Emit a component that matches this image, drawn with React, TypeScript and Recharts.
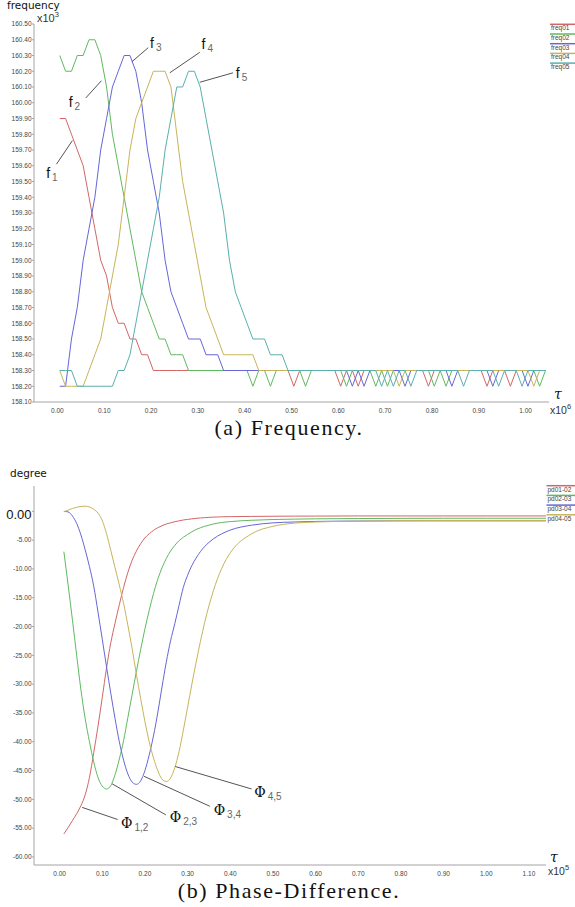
import React from "react";
import { LineChart, Line, XAxis, YAxis, ReferenceLine, ReferenceDot } from "recharts";

// ---- (a) frequency, tau in units of 10^6 ----
const TAU_A = [
  0.005, 0.0175, 0.03, 0.0425, 0.055, 0.0675, 0.08, 0.0925, 0.105, 0.1175, 0.13, 0.1425,
  0.155, 0.1675, 0.18, 0.1925, 0.205, 0.2175, 0.23, 0.2425, 0.255, 0.2675, 0.28, 0.2925,
  0.305, 0.3175, 0.33, 0.3425, 0.355, 0.3675, 0.38, 0.3925, 0.405, 0.4175, 0.43, 0.4425,
  0.455, 0.4675, 0.48, 0.4925, 0.505, 0.5175, 0.53, 0.5425, 0.555, 0.5675, 0.58, 0.5925,
  0.605, 0.6175, 0.63, 0.6425, 0.655, 0.6675, 0.68, 0.6925, 0.705, 0.7175, 0.73, 0.7425,
  0.755, 0.7675, 0.78, 0.7925, 0.805, 0.8175, 0.83, 0.8425, 0.855, 0.8675, 0.88, 0.8925,
  0.905, 0.9175, 0.93, 0.9425, 0.955, 0.9675, 0.98, 0.9925, 1.005, 1.0175, 1.03, 1.0425,
];

const FREQ01 = [
  159.9, 159.9, 159.8, 159.7, 159.6, 159.4, 159.2, 159.0, 158.9, 158.7, 158.6, 158.6,
  158.5, 158.5, 158.4, 158.4, 158.3, 158.3, 158.3, 158.3, 158.3, 158.3, 158.3, 158.3,
  158.3, 158.3, 158.3, 158.3, 158.3, 158.3, 158.3, 158.3, 158.3, 158.3, 158.3, 158.3,
  158.3, 158.3, 158.3, 158.3, 158.2, 158.3, 158.3, 158.3, 158.3, 158.3, 158.3, 158.3,
  158.2, 158.3, 158.3, 158.2, 158.3, 158.3, 158.3, 158.3, 158.3, 158.3, 158.3, 158.3,
  158.3, 158.3, 158.3, 158.2, 158.3, 158.3, 158.3, 158.3, 158.3, 158.3, 158.3, 158.3,
  158.3, 158.2, 158.3, 158.3, 158.3, 158.2, 158.3, 158.3, 158.3, 158.3, 158.3, 158.3,
];
const FREQ02 = [
  160.3, 160.2, 160.2, 160.3, 160.3, 160.4, 160.4, 160.3, 160.1, 159.8, 159.6, 159.4,
  159.2, 159.0, 158.8, 158.7, 158.6, 158.5, 158.5, 158.4, 158.4, 158.4, 158.3, 158.3,
  158.3, 158.3, 158.3, 158.3, 158.3, 158.3, 158.3, 158.3, 158.3, 158.2, 158.3, 158.3,
  158.2, 158.3, 158.3, 158.3, 158.3, 158.3, 158.2, 158.3, 158.3, 158.3, 158.3, 158.3,
  158.3, 158.2, 158.3, 158.3, 158.3, 158.3, 158.2, 158.3, 158.2, 158.3, 158.3, 158.3,
  158.3, 158.3, 158.3, 158.3, 158.2, 158.3, 158.2, 158.3, 158.3, 158.3, 158.3, 158.3,
  158.3, 158.3, 158.3, 158.3, 158.3, 158.3, 158.3, 158.3, 158.3, 158.3, 158.2, 158.3,
];
const FREQ03 = [
  158.2, 158.2, 158.5, 158.7, 159.0, 159.2, 159.4, 159.7, 159.9, 160.1, 160.2, 160.3,
  160.3, 160.2, 160.0, 159.7, 159.5, 159.3, 159.0, 158.8, 158.7, 158.6, 158.5, 158.5,
  158.5, 158.4, 158.4, 158.4, 158.3, 158.3, 158.3, 158.3, 158.3, 158.3, 158.3, 158.3,
  158.3, 158.3, 158.3, 158.3, 158.3, 158.3, 158.3, 158.3, 158.3, 158.3, 158.3, 158.3,
  158.3, 158.3, 158.2, 158.3, 158.2, 158.3, 158.3, 158.3, 158.3, 158.3, 158.3, 158.2,
  158.3, 158.3, 158.3, 158.3, 158.3, 158.3, 158.3, 158.2, 158.3, 158.3, 158.3, 158.3,
  158.3, 158.3, 158.2, 158.3, 158.3, 158.3, 158.3, 158.3, 158.2, 158.3, 158.3, 158.3,
];
const FREQ04 = [
  158.3, 158.2, 158.2, 158.2, 158.2, 158.3, 158.4, 158.5, 158.7, 158.9, 159.1, 159.4,
  159.7, 159.9, 160.0, 160.1, 160.2, 160.2, 160.2, 160.1, 159.8, 159.5, 159.3, 159.1,
  158.9, 158.7, 158.6, 158.5, 158.4, 158.4, 158.4, 158.4, 158.4, 158.4, 158.3, 158.3,
  158.3, 158.3, 158.3, 158.3, 158.3, 158.3, 158.3, 158.3, 158.3, 158.3, 158.3, 158.3,
  158.3, 158.3, 158.3, 158.3, 158.3, 158.3, 158.3, 158.3, 158.3, 158.3, 158.2, 158.3,
  158.3, 158.3, 158.3, 158.3, 158.3, 158.3, 158.3, 158.3, 158.3, 158.3, 158.3, 158.3,
  158.3, 158.3, 158.3, 158.3, 158.3, 158.3, 158.3, 158.3, 158.3, 158.2, 158.3, 158.3,
];
const FREQ05 = [
  158.3, 158.3, 158.3, 158.2, 158.2, 158.2, 158.2, 158.2, 158.2, 158.2, 158.3, 158.3,
  158.4, 158.6, 158.8, 159.0, 159.2, 159.4, 159.7, 159.9, 160.1, 160.1, 160.2, 160.2,
  160.1, 159.9, 159.7, 159.5, 159.3, 159.0, 158.8, 158.7, 158.6, 158.5, 158.5, 158.5,
  158.4, 158.4, 158.4, 158.3, 158.3, 158.3, 158.3, 158.3, 158.3, 158.3, 158.3, 158.3,
  158.3, 158.3, 158.3, 158.3, 158.3, 158.3, 158.3, 158.2, 158.3, 158.2, 158.3, 158.3,
  158.2, 158.3, 158.3, 158.3, 158.3, 158.3, 158.3, 158.3, 158.3, 158.2, 158.3, 158.3,
  158.3, 158.3, 158.3, 158.2, 158.3, 158.3, 158.3, 158.2, 158.3, 158.3, 158.3, 158.3,
];

const FREQ_TICKS = [
  158.1, 158.2, 158.3, 158.4, 158.5, 158.6, 158.7, 158.8, 158.9, 159.0, 159.1, 159.2, 159.3,
  159.4, 159.5, 159.6, 159.7, 159.8, 159.9, 160.0, 160.1, 160.2, 160.3, 160.4, 160.5,
];
const TAU_TICKS_A = [0, 0.1, 0.2, 0.3, 0.4, 0.5, 0.6, 0.7, 0.8, 0.9, 1.0];

// ---- (b) phase difference, tau in units of 10^5 ----
const TAU_B = [
  0.01, 0.02, 0.03, 0.04, 0.05, 0.06, 0.07, 0.08, 0.09, 0.1,
  0.11, 0.12, 0.13, 0.14, 0.15, 0.16, 0.17, 0.18, 0.19, 0.2,
  0.21, 0.22, 0.23, 0.24, 0.25, 0.26, 0.27, 0.28, 0.29, 0.3,
  0.31, 0.32, 0.33, 0.34, 0.35, 0.36, 0.37, 0.38, 0.39, 0.4,
  0.45, 0.5, 0.55, 0.6, 0.7, 0.8, 0.9, 1.0, 1.1, 1.14,
];
const PD0102 = [
  -56.0, -54.9, -53.7, -52.5, -51.1, -49.2, -46.2, -41.9, -37.3, -32.3,
  -27.2, -22.8, -19.4, -16.2, -13.2, -10.6, -8.5, -6.9, -5.6, -4.6,
  -3.9, -3.3, -2.85, -2.5, -2.2, -2.0, -1.8, -1.65, -1.5, -1.4,
  -1.3, -1.22, -1.15, -1.1, -1.05, -1.0, -0.98, -0.95, -0.93, -0.92,
  -0.88, -0.85, -0.83, -0.82, -0.8, -0.8, -0.8, -0.8, -0.8, -0.8,
];
const PD0203 = [
  -7.0, -12.8, -18.8, -25.0, -31.0, -36.0, -40.0, -43.5, -46.2, -47.7,
  -48.2, -47.6, -45.7, -43.0, -39.8, -35.8, -31.8, -27.8, -24.0, -20.4,
  -17.2, -14.3, -11.8, -9.8, -8.2, -6.9, -5.9, -5.1, -4.5, -4.0,
  -3.55, -3.15, -2.85, -2.6, -2.4, -2.2, -2.05, -1.95, -1.85, -1.78,
  -1.55, -1.42, -1.35, -1.3, -1.25, -1.22, -1.2, -1.2, -1.2, -1.2,
];
const PD0304 = [
  0.0, -0.1, -0.8, -2.1, -4.1, -6.7, -9.6, -13.0, -17.5, -22.2,
  -27.0, -31.6, -36.0, -40.0, -43.2, -45.6, -47.0, -47.4, -46.8, -45.0,
  -42.3, -39.0, -35.0, -30.5, -26.2, -22.5, -19.5, -16.3, -13.2, -11.1,
  -9.4, -8.1, -7.0, -6.1, -5.4, -4.8, -4.3, -3.9, -3.55, -3.25,
  -2.4, -2.0, -1.85, -1.75, -1.68, -1.65, -1.65, -1.65, -1.65, -1.65,
];
const PD0405 = [
  -0.1, 0.2, 0.5, 0.7, 0.85, 0.9, 0.75, 0.35, -0.3, -1.6,
  -3.9, -6.8, -9.8, -12.8, -16.0, -19.8, -23.8, -28.3, -32.5, -36.5,
  -40.0, -42.8, -45.0, -46.5, -46.9, -46.3, -44.5, -41.7, -38.0, -34.0,
  -30.0, -26.2, -22.6, -19.3, -16.4, -13.9, -11.7, -9.9, -8.4, -7.2,
  -3.9, -2.6, -2.05, -1.85, -1.7, -1.62, -1.6, -1.6, -1.6, -1.6,
];

const DEG_TICKS = [0, -5, -10, -15, -20, -25, -30, -35, -40, -45, -50, -55, -60];
const TAU_TICKS_B = [0, 0.1, 0.2, 0.3, 0.4, 0.5, 0.6, 0.7, 0.8, 0.9, 1.0, 1.1];

const RED = "#d26666";
const GREEN = "#5fba5f";
const BLUE = "#6666d8";
const YELLOW = "#c8b45a";
const TEAL = "#5aafaf";

const FREQ_SERIES = [
  { key: "freq01", color: RED, values: FREQ01 },
  { key: "freq02", color: GREEN, values: FREQ02 },
  { key: "freq03", color: BLUE, values: FREQ03 },
  { key: "freq04", color: YELLOW, values: FREQ04 },
  { key: "freq05", color: TEAL, values: FREQ05 },
];
const PD_SERIES = [
  { key: "pd01-02", color: RED, values: PD0102 },
  { key: "pd02-03", color: GREEN, values: PD0203 },
  { key: "pd03-04", color: BLUE, values: PD0304 },
  { key: "pd04-05", color: YELLOW, values: PD0405 },
];

// leader lines + labels, in data coordinates
const F_NOTES = [
  { sub: "1", from: [0.032, 159.76], to: [-0.002, 159.61], at: [-0.024, 159.52] },
  { sub: "2", from: [0.094, 160.14], to: [0.0605, 160.03], at: [0.024, 159.97] },
  { sub: "3", from: [0.159, 160.26], to: [0.194, 160.35], at: [0.198, 160.35] },
  { sub: "4", from: [0.24, 160.19], to: [0.304, 160.32], at: [0.308, 160.34] },
  { sub: "5", from: [0.304, 160.13], to: [0.375, 160.19], at: [0.381, 160.16] },
];
const PHI_NOTES = [
  { sub: "1,2", from: [0.053, -51.4], to: [0.136, -53.5], at: [0.144, -55.0] },
  { sub: "2,3", from: [0.123, -47.3], to: [0.249, -52.7], at: [0.258, -53.9] },
  { sub: "3,4", from: [0.198, -46.0], to: [0.352, -51.2], at: [0.361, -52.7] },
  { sub: "4,5", from: [0.271, -44.3], to: [0.45, -48.2], at: [0.456, -49.6] },
];

const rowsA = TAU_A.map((t, i) => {
  const row: Record<string, number> = { t };
  FREQ_SERIES.forEach((s) => (row[s.key] = s.values[i]));
  return row;
});
const rowsB = TAU_B.map((t, i) => {
  const row: Record<string, number> = { t };
  PD_SERIES.forEach((s) => (row[s.key] = s.values[i]));
  return row;
});

const AXIS = "#a4a4a4";
const SANS = "Liberation Sans, Arial, sans-serif";
const tickText = { fontSize: 6.5, fill: "#444", fontFamily: SANS };
const fmt2 = (v: number) => Number(v).toFixed(2);
const NoTick = () => <g />;

function Tag({ cx, cy, main, sub, serif }: any) {
  return (
    <text x={cx} y={cy} fontSize={14} fill="#111" fontFamily={serif ? "DejaVu Serif, serif" : SANS}>
      {main}
      <tspan dx={2} dy={3} fontSize={10} fill="#666" fontFamily={SANS}>{sub}</tspan>
    </text>
  );
}

function DegTick({ x, y, payload }: any) {
  const zero = payload.value === 0;
  return (
    <text
      x={x}
      y={y}
      dy={zero ? 7.5 : 2.3}
      textAnchor="end"
      fontSize={zero ? 13 : 6.5}
      fill={zero ? "#111" : "#444"}
      fontFamily={SANS}
    >
      {fmt2(payload.value)}
    </text>
  );
}

function FrequencyChart() {
  const dom: [number, number] = [-0.05, 1.05];
  const ydom: [number, number] = [158.1, 160.5];
  return (
    <LineChart width={575} height={420} data={rowsA} margin={{ top: 24, right: 26, bottom: 0, left: 0 }}>
      <XAxis xAxisId="x" dataKey="t" type="number" domain={dom} ticks={TAU_TICKS_A} tickFormatter={fmt2}
        interval={0} height={18} stroke={AXIS} tickLine={false} tickSize={2} tickMargin={4} tick={tickText} allowDataOverflow />
      <XAxis xAxisId="top" orientation="top" dataKey="t" type="number" domain={dom} ticks={TAU_TICKS_A.slice(1)}
        interval={0} height={0} mirror stroke={AXIS} tickSize={2} tick={NoTick} allowDataOverflow />
      <YAxis yAxisId="y" type="number" domain={ydom} ticks={FREQ_TICKS} tickFormatter={fmt2} interval={0}
        width={34} stroke={AXIS} tickSize={2} tickMargin={0.5} tick={tickText} allowDataOverflow />
      <YAxis yAxisId="right" orientation="right" type="number" domain={ydom} ticks={FREQ_TICKS.slice(0, -1)}
        interval={0} width={0} mirror stroke={AXIS} tickSize={2} tick={NoTick} allowDataOverflow />
      {FREQ_SERIES.map((s) => (
        <Line key={s.key} xAxisId="x" yAxisId="y" type="linear" dataKey={s.key} stroke={s.color}
          strokeWidth={1} dot={false} activeDot={false} isAnimationActive={false} />
      ))}
      {F_NOTES.map((n) => (
        <ReferenceLine key={"l" + n.sub} xAxisId="x" yAxisId="y" stroke="#555" strokeWidth={1}
          segment={[{ x: n.from[0], y: n.from[1] }, { x: n.to[0], y: n.to[1] }]} />
      ))}
      {F_NOTES.map((n) => (
        <ReferenceDot key={"t" + n.sub} xAxisId="x" yAxisId="y" x={n.at[0]} y={n.at[1]} r={0}
          shape={(p: any) => <Tag cx={p.cx} cy={p.cy} main="f" sub={n.sub} />} />
      ))}
    </LineChart>
  );
}

function PhaseChart() {
  const dom: [number, number] = [-0.06, 1.14];
  const ydom: [number, number] = [-61.4, 4.4];
  return (
    <LineChart width={575} height={420} data={rowsB} margin={{ top: 24, right: 29, bottom: 0, left: 0 }}>
      <XAxis xAxisId="x" dataKey="t" type="number" domain={dom} ticks={TAU_TICKS_B} tickFormatter={fmt2}
        interval={0} height={17} stroke={AXIS} tickLine={false} tickSize={2} tickMargin={4} tick={tickText} allowDataOverflow />
      <XAxis xAxisId="top" orientation="top" dataKey="t" type="number" domain={dom} ticks={TAU_TICKS_B.slice(1)}
        interval={0} height={0} mirror stroke={AXIS} tickSize={2} tick={NoTick} allowDataOverflow />
      <YAxis yAxisId="y" type="number" domain={ydom} ticks={DEG_TICKS} interval={0}
        width={34} stroke={AXIS} tickSize={2} tickMargin={0.5} tick={<DegTick />} allowDataOverflow />
      <YAxis yAxisId="right" orientation="right" type="number" domain={ydom} ticks={DEG_TICKS}
        interval={0} width={0} mirror stroke={AXIS} tickSize={2} tick={NoTick} allowDataOverflow />
      {PD_SERIES.map((s) => (
        <Line key={s.key} xAxisId="x" yAxisId="y" type="monotone" dataKey={s.key} stroke={s.color}
          strokeWidth={1} dot={false} activeDot={false} isAnimationActive={false} />
      ))}
      {PHI_NOTES.map((n) => (
        <ReferenceLine key={"l" + n.sub} xAxisId="x" yAxisId="y" stroke="#555" strokeWidth={1}
          segment={[{ x: n.from[0], y: n.from[1] }, { x: n.to[0], y: n.to[1] }]} />
      ))}
      {PHI_NOTES.map((n) => (
        <ReferenceDot key={"t" + n.sub} xAxisId="x" yAxisId="y" x={n.at[0]} y={n.at[1]} r={0}
          shape={(p: any) => <Tag cx={p.cx} cy={p.cy} main="Φ" sub={n.sub} serif />} />
      ))}
    </LineChart>
  );
}

function LegendBlock({ x, y, items }: { x: number; y: number; items: { key: string; color: string }[] }) {
  return (
    <g>
      {items.map((s, i) => (
        <g key={s.key}>
          <line x1={x} x2={575} y1={y + i * 9.7} y2={y + i * 9.7} stroke={s.color} strokeWidth={1.5} />
          <text x={x + 1} y={y + i * 9.7 + 5.8} fontSize={6.5} fill="#444" fontFamily={SANS}>{s.key}</text>
        </g>
      ))}
    </g>
  );
}

export default function App() {
  return (
    <div style={{ position: "absolute", left: 0, top: 0, width: 575, height: 907, background: "#fff" }}>
      <div style={{ position: "absolute", left: 0, top: 0 }}>
        <FrequencyChart />
      </div>
      <div style={{ position: "absolute", left: 0, top: 462 }}>
        <PhaseChart />
      </div>
      <svg width={575} height={907} style={{ position: "absolute", left: 0, top: 0, pointerEvents: "none" }}>
        <text x={7} y={8.5} fontSize={10.5} fill="#111" fontFamily="DejaVu Sans, sans-serif">frequency</text>
        <text x={37} y={21.5} fontSize={11} fill="#333" fontFamily={SANS}>
          x10<tspan dy={-5} fontSize={7.5}>3</tspan>
        </text>
        <LegendBlock x={550} y={24.3} items={FREQ_SERIES} />
        <text x={554} y={399} fontSize={14} fontStyle="italic" fill="#111" fontFamily="DejaVu Serif, serif">τ</text>
        <text x={550} y={414} fontSize={10.5} fill="#333" fontFamily={SANS}>
          x10<tspan dy={-5} fontSize={7.5}>6</tspan>
        </text>
        <text x={289} y={435} textAnchor="middle" fontSize={22} fill="#111" fontFamily="Liberation Serif, serif"
          style={{ letterSpacing: "1.6px" }}>(a) Frequency.</text>

        <text x={10} y={477} fontSize={10.5} fill="#111" fontFamily="DejaVu Sans, sans-serif">degree</text>
        <LegendBlock x={546.5} y={485.7} items={PD_SERIES} />
        <text x={550} y={862} fontSize={14} fontStyle="italic" fill="#111" fontFamily="DejaVu Serif, serif">τ</text>
        <text x={548} y={875} fontSize={10.5} fill="#333" fontFamily={SANS}>
          x10<tspan dy={-5} fontSize={7.5}>5</tspan>
        </text>
        <text x={289} y={898} textAnchor="middle" fontSize={22} fill="#111" fontFamily="Liberation Serif, serif"
          style={{ letterSpacing: "1.6px" }}>(b) Phase-Difference.</text>
      </svg>
    </div>
  );
}
